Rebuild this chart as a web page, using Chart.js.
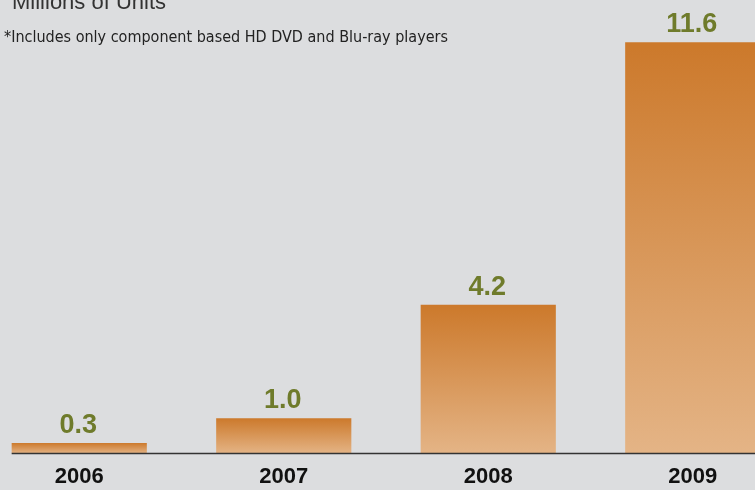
<!DOCTYPE html>
<html>
<head>
<meta charset="utf-8">
<script src="https://cdn.jsdelivr.net/npm/chart.js@4/dist/chart.umd.min.js"></script>
<style>
  html, body { margin: 0; padding: 0; background: #dcdddf; overflow: hidden; }
  #wrap { position: relative; width: 755px; height: 490px; overflow: hidden; }
  #title { position: absolute; left: 12px; top: -11px; font: 22px "Liberation Sans", sans-serif; color: #333; white-space: nowrap; }
  #note { position: absolute; left: 4px; top: 27px; font: 16px "Liberation Sans Narrow", "DejaVu Sans Condensed", sans-serif; color: #222; white-space: nowrap; }
  #box { position: absolute; left: -23px; top: 0; width: 818px; height: 503px; }
</style>
</head>
<body>
<div id="wrap">
  <div id="box"><canvas id="chart"></canvas></div>
  <div id="title">Millions of Units</div>
  <div id="note">*Includes only component based HD DVD and Blu-ray players</div>
</div>
<script>
// data
const years = ['2006', '2007', '2008', '2009'];
const units = [0.3, 1.0, 4.2, 11.6];

// bar fill: dark orange at the top fading to tan at the base
const barFill = (ctx) =>
{
  const chart = ctx.chart;
  if (!chart.chartArea) return '#d58a45';
  const y = chart.scales.y;
  const top = y.getPixelForValue(ctx.raw);
  const base = y.getPixelForValue(0);
  const g = chart.ctx.createLinearGradient(0, top, 0, base);
  g.addColorStop(0, '#cc792b');
  g.addColorStop(1, '#e4b486');
  return g;
};

// value on top of each bar + the base line
const labels = {
  id: 'labels',
  afterDatasetsDraw(chart)
  {
    const c = chart.ctx;
    const bars = chart.getDatasetMeta(0).data;
    const base = chart.scales.y.getPixelForValue(0);
    c.save();
    c.strokeStyle = '#333';
    c.lineWidth = 1.5;
    c.beginPath();
    c.moveTo(bars[0].x - bars[0].width / 2, base);
    c.lineTo(chart.width, base);
    c.stroke();
    c.fillStyle = '#6f7b2b';
    c.font = 'bold 27px "Liberation Sans", sans-serif';
    c.textAlign = 'center';
    c.textBaseline = 'alphabetic';
    bars.forEach((b, i) =>
    {
      c.fillText(units[i].toFixed(1), b.x - 1, b.y - 10);
    });
    c.restore();
  }
};

new Chart(document.getElementById('chart'), {
  type: 'bar',
  data: {
    labels: years,
    datasets: [{ data: units, backgroundColor: barFill, borderWidth: 0 }]
  },
  options: {
    responsive: true,
    maintainAspectRatio: false,
    animation: false,
    layout: { padding: { top: 0, bottom: 3, left: 0, right: 0 } },
    plugins: { legend: { display: false }, tooltip: { enabled: false }, title: { display: false } },
    datasets: { bar: { barPercentage: 0.661, categoryPercentage: 1 } },
    scales: {
      x: {
        grid: { display: false, drawTicks: false },
        border: { display: false },
        ticks: { color: '#111', padding: 10, font: { family: '"Liberation Sans", sans-serif', size: 22, weight: 'bold' } }
      },
      y: {
        display: false,
        min: 0,
        max: 12.79
      }
    }
  },
  plugins: [labels]
});
</script>
</body>
</html>
